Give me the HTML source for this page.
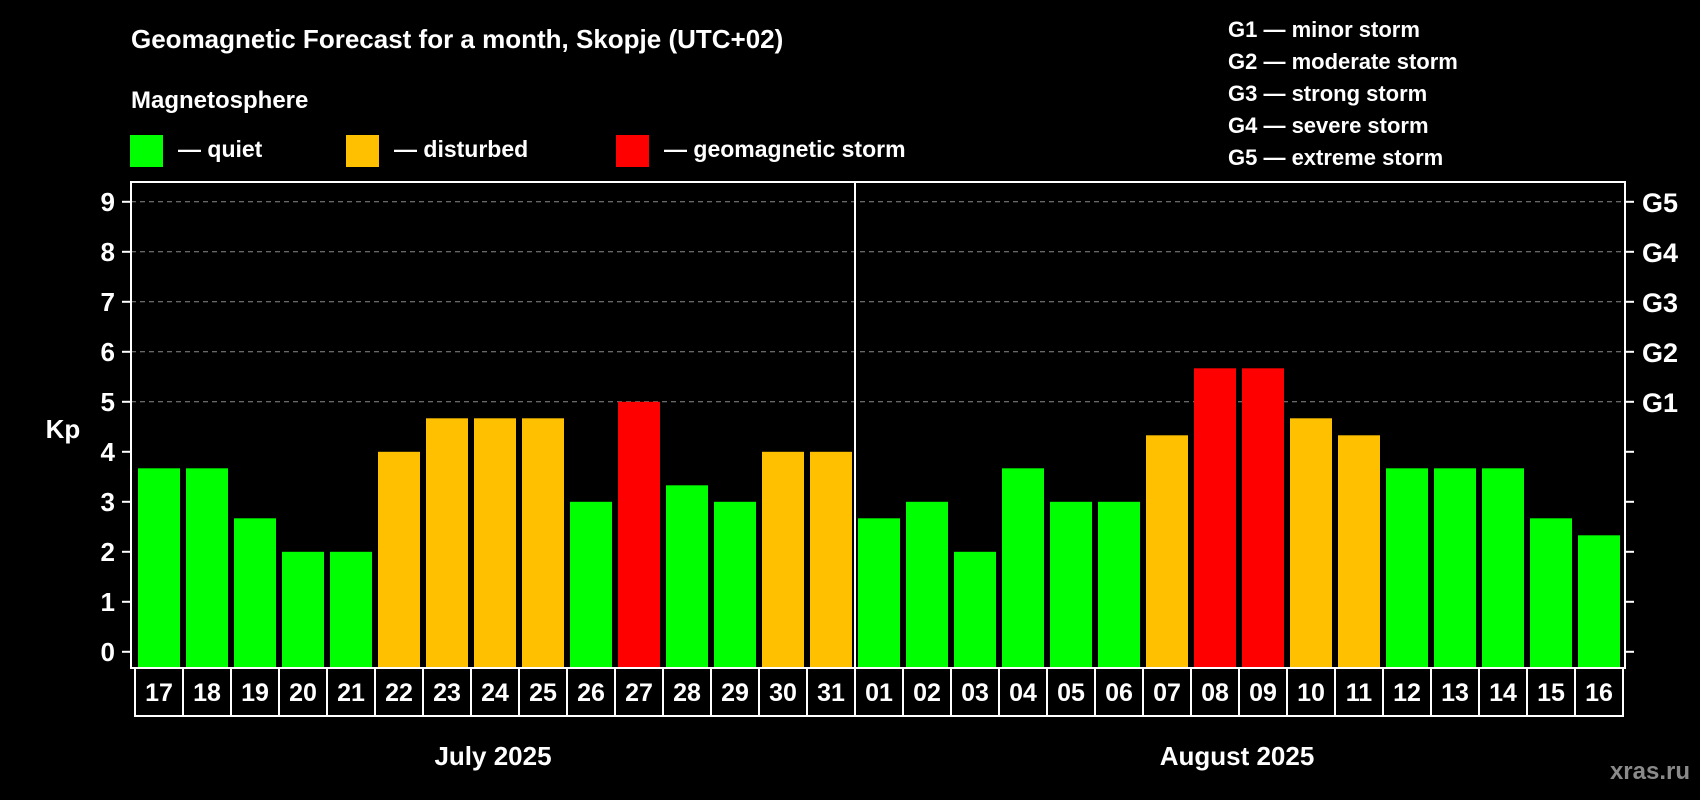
<!DOCTYPE html>
<html><head><meta charset="utf-8"><style>
html,body{margin:0;padding:0;background:#000;}
svg{display:block;font-family:"Liberation Sans",Arial,sans-serif;font-weight:bold;}
</style></head><body>
<svg id="chart" width="1700" height="800" viewBox="0 0 1700 800">
<rect x="0" y="0" width="1700" height="800" fill="#000"/>
<text x="131" y="48" font-size="26" fill="#fff">Geomagnetic Forecast for a month, Skopje (UTC+02)</text>
<text x="131" y="108" font-size="24" fill="#fff">Magnetosphere</text>
<g><rect x="130" y="135" width="33" height="32" fill="#00ff00"/><text x="178" y="157" font-size="23" fill="#fff">— quiet</text></g>
<g><rect x="346" y="135" width="33" height="32" fill="#ffc000"/><text x="394" y="157" font-size="23" fill="#fff">— disturbed</text></g>
<g><rect x="616" y="135" width="33" height="32" fill="#ff0000"/><text x="664" y="157" font-size="23" fill="#fff">— geomagnetic storm</text></g>
<g font-size="22" fill="#fff">
<text x="1228" y="37">G1 — minor storm</text>
<text x="1228" y="69">G2 — moderate storm</text>
<text x="1228" y="101">G3 — strong storm</text>
<text x="1228" y="133">G4 — severe storm</text>
<text x="1228" y="165">G5 — extreme storm</text>
</g>
<g id="plot"></g>
<text x="63" y="438" font-size="26" fill="#fff" text-anchor="middle">Kp</text>
<text x="493" y="765" font-size="26" fill="#fff" text-anchor="middle">July 2025</text>
<text x="1237" y="765" font-size="26" fill="#fff" text-anchor="middle">August 2025</text>
<text x="1690" y="779" font-size="24" fill="#8a8a8a" text-anchor="end">xras.ru</text>
</svg>
<script>
const days = ["17","18","19","20","21","22","23","24","25","26","27","28","29","30","31","01","02","03","04","05","06","07","08","09","10","11","12","13","14","15","16"];
const kpValues = [3.67,3.67,2.67,2,2,4,4.67,4.67,4.67,3,5,3.33,3,4,4,2.67,3,2,3.67,3,3,4.33,5.67,5.67,4.67,4.33,3.67,3.67,3.67,2.67,2.33];
const levels = ["quiet","quiet","quiet","quiet","quiet","disturbed","disturbed","disturbed","disturbed","quiet","storm","quiet","quiet","disturbed","disturbed","quiet","quiet","quiet","quiet","quiet","quiet","disturbed","storm","storm","disturbed","disturbed","quiet","quiet","quiet","quiet","quiet"];
const yTicks = [0,1,2,3,4,5,6,7,8,9];
const gLabels = ["G1","G2","G3","G4","G5"];
const gLevels = [5,6,7,8,9];

const NS="http://www.w3.org/2000/svg";
const plot=document.getElementById('plot');
const L=131,R=1625,T=182,B=668;
const y0=651.8, unit=50;
const yScale=v=>y0-v*unit;
const xScale=i=>138+i*48;
const barW=42;
const colors={quiet:"#00ff00",disturbed:"#ffc000",storm:"#ff0000"};
function mk(tag,attrs){const e=document.createElementNS(NS,tag);for(const k in attrs)e.setAttribute(k,attrs[k]);plot.appendChild(e);return e;}

gLevels.forEach(v=>{
  const g=mk('line',{x1:L,x2:R,y1:yScale(v),y2:yScale(v),stroke:"#8a8a8a","stroke-width":1,"stroke-dasharray":"5,4"});
  
  
});
kpValues.forEach((v,i)=>{
  const r=mk('rect',{x:xScale(i),y:yScale(v),width:barW,height:B-yScale(v),fill:colors[levels[i]]});
  
  
});
const fr=mk('rect',{x:L,y:T,width:R-L,height:B-T,fill:"none",stroke:"#fff","stroke-width":2});


const dv=mk('line',{x1:(xScale(14)+barW+xScale(15))/2,x2:(xScale(14)+barW+xScale(15))/2,y1:T,y2:B,stroke:"#fff","stroke-width":2});


yTicks.forEach(v=>{
  const y=yScale(v);
  mk('line',{x1:122,x2:L,y1:y,y2:y,stroke:"#fff","stroke-width":2});
  mk('line',{x1:R,x2:R+9,y1:y,y2:y,stroke:"#fff","stroke-width":2});
  const t=mk('text',{x:115,y:y+9,"font-size":26,fill:"#fff","text-anchor":"end"});
  t.textContent=v;
  
  
});
gLabels.forEach((g,i)=>{
  const t=mk('text',{x:1642,y:yScale(gLevels[i])+10,"font-size":27,fill:"#fff"});
  t.textContent=g;
  
  
});
days.forEach((d,i)=>{
  const cx=xScale(i)-3;
  const c=mk('rect',{x:cx,y:B,width:48,height:48,fill:"none",stroke:"#fff","stroke-width":2});
  
  
  const t=mk('text',{x:cx+24,y:701,"font-size":25,fill:"#fff","text-anchor":"middle"});
  t.textContent=d;
  
  
});
</script>
</body></html>
